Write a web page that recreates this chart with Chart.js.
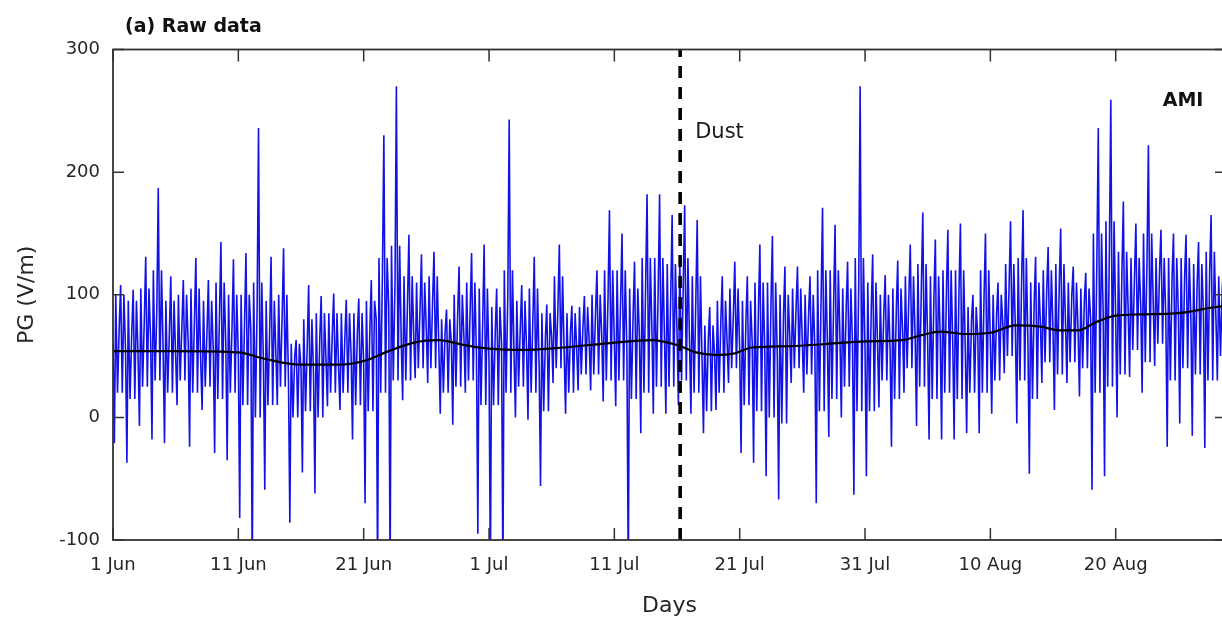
<!DOCTYPE html>
<html>
<head>
<meta charset="utf-8">
<title>PG raw data - AMI</title>
<script src="https://cdn.jsdelivr.net/npm/chart.js@4.4.1/dist/chart.umd.min.js"></script>
<style>
  html, body { margin:0; padding:0; background:#fff; overflow:hidden; }
  #wrap { width:1240px; height:622px; }
</style>
</head>
<body>
<div id="wrap"><canvas id="pgChart" width="1240" height="622"></canvas></div>
<script>
"use strict";

// x axis: days since 1 Jun
const xTickDays   = [0, 10, 20, 30, 40, 50, 60, 70, 80];
const xTickLabels = ["1 Jun", "11 Jun", "21 Jun", "1 Jul", "11 Jul", "21 Jul", "31 Jul", "10 Aug", "20 Aug"];
const yTicks      = [-100, 0, 100, 200, 300];

// PG (V/m), four values a day: mid, low spike, mid, high spike
const pgJun = [
  60,-21,75,108,   55,-37,70,104,   50,-7,80,131,    65,-18,90,187,   55,-21,70,115,
  50,10,75,112,    60,-24,80,130,   45,6,70,112,     55,-29,85,143,   60,-35,75,129,
  50,-82,80,134,   70,-130,90,236,  45,-59,70,131,   50,10,85,138,    30,-86,50,63,
  40,-45,60,108,   35,-62,65,99,    45,9,70,101,     40,6,65,96,      50,-18,70,97,
  45,-70,75,112,   80,-130,120,230, 90,-130,110,270, 60,14,95,149,    65,32,90,133,
  70,28,95,135,    55,3,70,88,      60,-6,85,123,    65,20,90,134,    50,-95,80,141
];
const pgJul = [
  45,-130,70,105,  60,-130,100,243, 50,0,75,108,     55,-2,80,131,    40,-56,65,92,
  65,28,90,141,    50,3,70,91,      55,22,75,99,     60,22,85,120,    65,13,100,169,
  60,9,95,150,     55,-130,85,127,  65,-13,110,182,  70,3,105,182,    65,3,100,165,
  70,10,110,173,   60,3,95,161,     45,-13,65,90,    50,6,80,115,     60,28,85,127,
  55,-29,80,115,   60,-37,90,141,   55,-48,95,148,   50,-67,85,123,   65,28,90,123,
  60,20,85,115,    55,-70,100,171,  60,-16,95,157,   65,0,90,127,     60,-63,110,270,
  55,-48,90,133
];
const pgAug = [
  60,8,85,116,     55,-24,90,128,   70,20,100,141,   65,-7,110,167,   60,-18,100,145,
  65,-18,105,153,  60,-18,105,158,  55,-13,80,100,   65,-13,100,150,  60,3,85,110,
  75,36,110,160,   70,-5,115,169,   60,-46,95,131,   75,28,105,139,   70,6,110,154,
  75,28,100,123,   70,17,95,118,    80,-59,130,236,  85,-48,140,259,  80,0,120,176,
  85,33,115,158,   90,20,130,222,   90,42,120,153,   80,-24,115,150,  85,-5,115,149,
  80,-15,110,143,  85,-25,120,165,  80,30,105,125
];

// dense hourly band, two values a day: lower edge, upper edge
const bandJun = [
  20,100, 15,95,  25,105, 30,120, 20,95,  30,100, 20,105, 25,95,  15,110, 20,100,
  10,100, 0,110,  10,95,  25,100, 0,60,   5,80,   0,85,   20,85,  20,85,  10,85,
  5,95,   20,130, 30,140, 30,115, 40,110, 40,115, 20,80,  25,100, 30,110, 10,105
];
const bandJul = [
  10,90,  20,120, 25,95,  20,105, 5,85,   40,115, 20,85,  35,90,  35,100, 30,120,
  30,120, 15,105, 20,130, 25,130, 25,125, 30,130, 20,115, 5,75,   20,95,  40,105,
  10,95,  5,110,  0,110,  -5,100, 40,105, 35,100, 5,120,  15,120, 25,105, 5,130,
  5,110
];
const bandAug = [
  30,100, 15,105, 40,115, 25,125, 15,115, 20,120, 15,120, 20,90,  20,120, 30,100,
  50,125, 30,130, 15,110, 45,120, 35,125, 45,110, 40,105, 20,150, 25,160, 35,135,
  55,130, 45,150, 60,130, 30,130, 40,130, 35,125, 30,135, 50,115
];

// smoothed background trend
const trendDays = [0, 5, 10, 12, 15, 18, 20, 22, 24, 26, 28, 30, 33, 36, 40, 43, 45, 46.5, 48, 49.5,
                   51, 54, 57, 60, 63, 64.5, 66, 68, 70, 72, 74, 75.5, 77, 78.5, 80, 82, 85, 88, 89];
const trendPG   = [54, 54, 53, 48, 43, 43, 46, 54, 61, 63, 59, 56, 55, 57, 61, 63, 59, 53, 51, 52,
                   57, 58, 60, 62, 63, 67, 70, 68, 69, 75, 74, 71, 71, 78, 83, 84, 85, 90, 91];

const dustDay = 45.25;

// sample order inside a day and its time of day
const dayPhase = [0, 0.11, 0.22, 0.36, 0.5, 0.61, 0.74, 0.87];

const pgAll = pgJun.concat(pgJul, pgAug);
const bandAll = bandJun.concat(bandJul, bandAug);
const pgPoints = [];
for (let d = 0; d < pgAll.length / 4; d++) {
  const [m1, lo, m2, hi] = pgAll.slice(d * 4, d * 4 + 4);
  const [bLo, bHi] = bandAll.slice(d * 2, d * 2 + 2);
  [m1, lo, bHi, bLo, m2, hi, bLo, bHi].forEach((v, k) => pgPoints.push({ x: d + dayPhase[k], y: v }));
}
const trendPoints = trendDays.map((d, i) => ({ x: d, y: trendPG[i] }));
const dustPoints = [{ x: dustDay, y: -100 }, { x: dustDay, y: 300 }];

const AXIS_COLOR = "#262626";
Chart.defaults.font.family = "'DejaVu Sans', 'Liberation Sans', sans-serif";
Chart.defaults.color = AXIS_COLOR;

const frameAndText = {
  id: "frameAndText",
  afterDatasetsDraw(chart) {
    const { ctx, chartArea: a, scales: { x, y } } = chart;
    ctx.save();
    ctx.strokeStyle = "#333";
    ctx.lineWidth = 1.8;
    ctx.strokeRect(a.left, a.top, a.right - a.left, a.bottom - a.top);

    // inward ticks on all four sides, matlab style
    ctx.lineWidth = 1.5;
    ctx.beginPath();
    x.ticks.forEach(t => {
      const px = x.getPixelForValue(t.value);
      ctx.moveTo(px, a.bottom); ctx.lineTo(px, a.bottom - 12);
      ctx.moveTo(px, a.top);    ctx.lineTo(px, a.top + 12);
    });
    y.ticks.forEach(t => {
      const py = y.getPixelForValue(t.value);
      ctx.moveTo(a.left, py);  ctx.lineTo(a.left + 11, py);
      ctx.moveTo(a.right, py); ctx.lineTo(a.right - 11, py);
    });
    ctx.stroke();

    ctx.fillStyle = "#111";
    ctx.textBaseline = "middle";
    ctx.textAlign = "left";
    ctx.font = "bold 19px 'DejaVu Sans', sans-serif";
    ctx.fillText("(a) Raw data", a.left + 12, 27);

    ctx.font = "21px 'DejaVu Sans', sans-serif";
    ctx.fillStyle = "#1a1a1a";
    ctx.fillText("Dust", x.getPixelForValue(dustDay) + 15, y.getPixelForValue(232));

    ctx.font = "bold 19px 'DejaVu Sans', sans-serif";
    ctx.fillStyle = "#111";
    ctx.textAlign = "right";
    ctx.fillText("AMI", x.getPixelForValue(87), y.getPixelForValue(258));
    ctx.restore();
  }
};

new Chart(document.getElementById("pgChart").getContext("2d"), {
  type: "line",
  data: {
    datasets: [
      { label: "PG", data: pgPoints, borderColor: "#1212e8", borderWidth: 1.6, pointRadius: 0, tension: 0, order: 3 },
      { label: "trend", data: trendPoints, borderColor: "#000", borderWidth: 2.2, pointRadius: 0, cubicInterpolationMode: "monotone", order: 2 },
      { label: "dust", data: dustPoints, borderColor: "#000", borderWidth: 3.6, borderDash: [12, 9], pointRadius: 0, order: 1 }
    ]
  },
  options: {
    responsive: false,
    animation: false,
    events: [],
    layout: { padding: { top: 49.5, left: 0, right: 14, bottom: 0 } },
    plugins: { legend: { display: false }, tooltip: { enabled: false } },
    scales: {
      x: {
        type: "linear",
        min: 0,
        max: 88.8,
        afterBuildTicks: s => { s.ticks = xTickDays.map(v => ({ value: v })); },
        afterFit: s => { s.height = 82; },
        ticks: {
          autoSkip: false,
          maxRotation: 0,
          padding: 15,
          font: { size: 18 },
          callback: v => xTickLabels[xTickDays.indexOf(v)]
        },
        grid: { display: false, drawTicks: false },
        border: { display: false },
        title: { display: true, text: "Days", font: { size: 22 }, padding: { top: 0, bottom: 3 } }
      },
      y: {
        min: -100,
        max: 300,
        afterBuildTicks: s => { s.ticks = yTicks.map(v => ({ value: v })); },
        afterFit: s => { s.width = 113; },
        ticks: { padding: 13, font: { size: 18 } },
        grid: { display: false, drawTicks: false },
        border: { display: false },
        title: { display: true, text: "PG (V/m)", font: { size: 22 }, padding: { top: 14, bottom: 0 } }
      }
    }
  },
  plugins: [frameAndText]
});
</script>
</body>
</html>
